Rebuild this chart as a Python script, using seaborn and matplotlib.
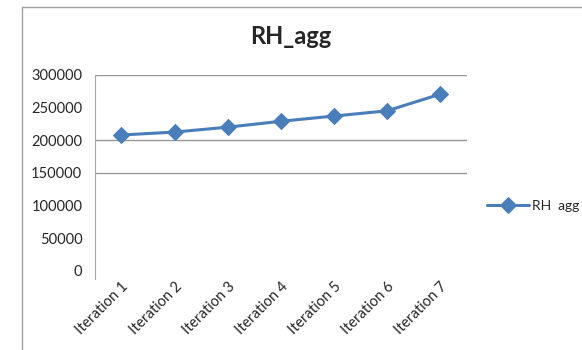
import numpy as np
import pandas as pd
import matplotlib
matplotlib.use('Agg')
import matplotlib.pyplot as plt
import seaborn as sns

iterations = ['Iteration 1', 'Iteration 2', 'Iteration 3', 'Iteration 4',
              'Iteration 5', 'Iteration 6', 'Iteration 7']
rh_agg = [208000, 212500, 220000, 229000, 237000, 245000, 270500]
y_ticks = [0, 50000, 100000, 150000, 200000, 250000, 300000]
grid_shown = [150000, 200000, 300000]

sns.set_style('white')
plt.rcParams['font.family'] = ['Lato', 'DejaVu Sans']

df = pd.DataFrame({'iteration': iterations, 'RH_agg': rh_agg})
df['pos'] = np.arange(len(df))

fig = plt.figure(figsize=(5.82, 3.5), dpi=100)
ax = fig.add_axes([0.163, 0.226, 0.639, 0.56])

blue = '#4a7ebb'
sns.lineplot(data=df, x='pos', y='RH_agg', ax=ax, color=blue, linewidth=2.2,
             marker='D', markersize=8.5, markeredgecolor=blue, label='RH  agg')

for g in grid_shown:
    ax.axhline(g, color='#989898', linewidth=1, zorder=0)

ax.set_xlim(-0.5, len(iterations) - 0.5)
ax.set_ylim(0, 300000)
ax.set_yticks(y_ticks)
ax.set_yticklabels([str(v) for v in y_ticks], fontsize=10.5, color='#262626')
ax.set_xticks(df['pos'])
ax.set_xticklabels(iterations, rotation=45, ha='right', rotation_mode='anchor',
                   fontsize=10.5, color='#262626')
ax.set_xticks(np.arange(len(iterations) + 1) - 0.5, minor=True)
ax.tick_params(axis='x', which='major', length=0, pad=6)
ax.tick_params(axis='x', which='minor', length=5, width=1, color='#bbbbbb', direction='out')
ax.tick_params(axis='y', length=4, width=1, color='#989898', direction='out', pad=5)
ax.set_xlabel('')
ax.set_ylabel('')

for s in ['top', 'right', 'bottom']:
    ax.spines[s].set_visible(False)
ax.spines['left'].set_color('#a8a8a8')
ax.spines['left'].set_bounds(-12000, 300000)

ax.legend(loc='center left', bbox_to_anchor=(1.04, 0.33), frameon=False,
          fontsize=10, handlelength=3.0, handletextpad=0.2, borderaxespad=0)

fig.suptitle('RH_agg', x=0.5, y=0.93, fontsize=17, fontweight='bold')

# chart border (left and top edges visible)
fig.add_artist(plt.Line2D([22 / 582, 22 / 582], [0, 1 - 7 / 350],
                          transform=fig.transFigure, color='#a0a0a0', linewidth=1))
fig.add_artist(plt.Line2D([22 / 582, 1], [1 - 7 / 350, 1 - 7 / 350],
                          transform=fig.transFigure, color='#a0a0a0', linewidth=1))

fig.savefig('out.png', dpi=100)
